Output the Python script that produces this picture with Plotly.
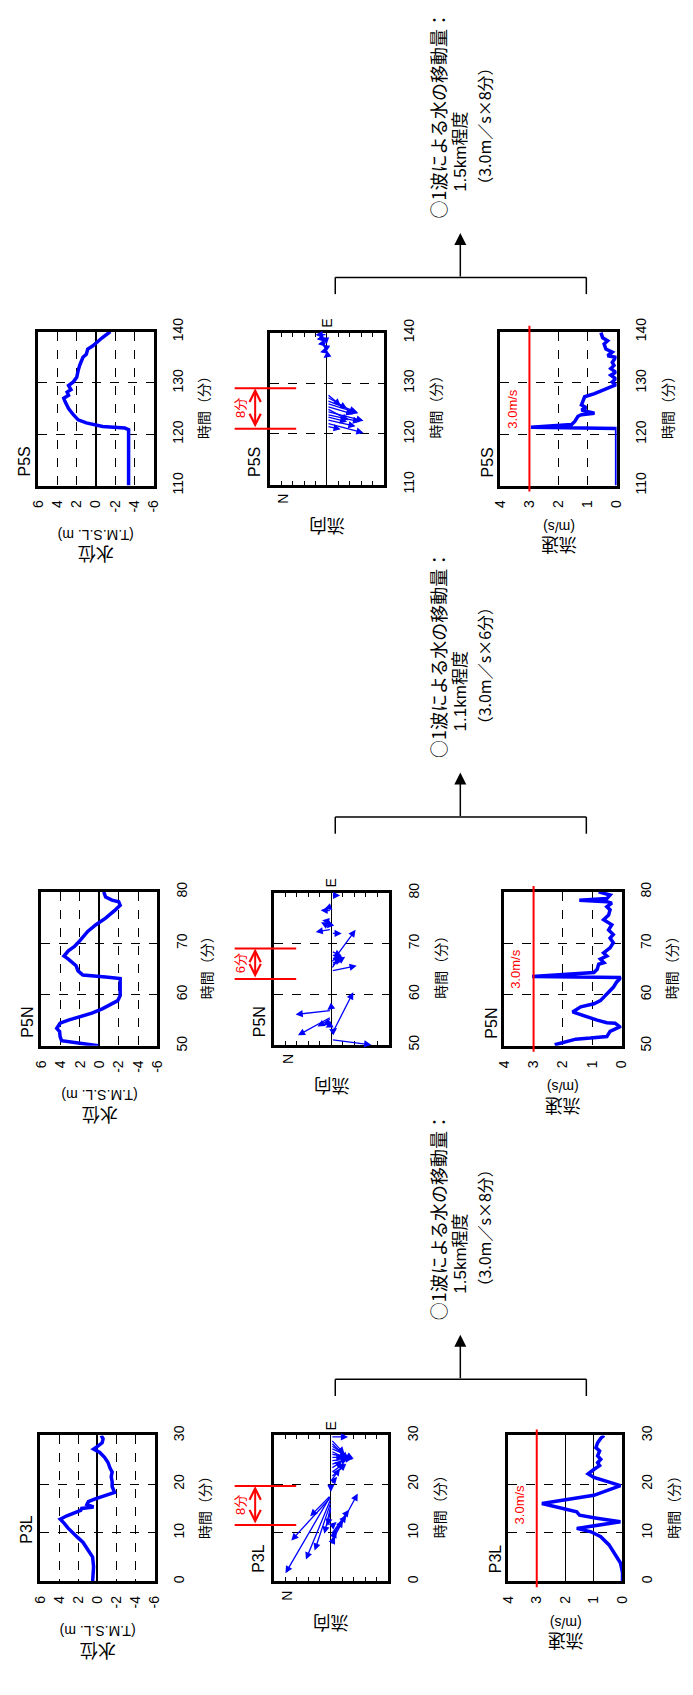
import plotly.graph_objects as go

W, H = 693, 1695


def X(px):
    return px / W


def Y(py):
    return 1 - py / H


# ---------------- data ----------------
stations = ["P5S", "P5N", "P3L"]
time_start = [110, 50, 0]
wl_ticks = [6, 4, 2, 0, -2, -4, -6]
wl_ticktext = ["6", "4", "2", "0", "-2", "-4", "-6"]
sp_ticks = [4, 3, 2, 1, 0]
threshold_speed = 3.0
move_minutes = [8, 6, 8]
move_dist = ["1.5km", "1.1km", "1.5km"]
move_window = [(121.0, 129.0), (63.0, 69.0), (11.6, 19.6)]

# water level (T.M.S.L. m)
p5s_wl_t = [110, 120.9, 121.2, 121.5, 122.2, 122.8, 123.8, 125.0, 126.3, 127.0, 127.6, 128.2,
            128.7, 129.5, 130.2, 131.1, 132.4, 133.4, 135.0, 135.6, 136.6, 137.2, 138.8, 140]
p5s_wl_v = [-3.4, -3.4, -3.0, -0.7, 1.0, 1.85, 2.35, 2.85, 3.2, 3.35, 2.85, 3.0,
            2.6, 2.85, 2.35, 2.0, 1.85, 1.7, 1.35, 1.0, 0.85, 0.35, -0.65, -1.5]

p5n_wl_t = [50, 50.5, 51.0, 51.8, 52.8, 53.4, 54.4, 55.0, 55.6, 56.4, 57.2, 58.1, 58.8, 59.8,
            61.4, 62.7, 63.1, 63.4, 63.8, 64.6, 65.6, 66.9, 67.5, 68.5, 69.4, 70.4, 71.3, 72.3,
            73.6, 74.9, 76.5, 77.4, 78.1, 78.4, 79.0, 80]
p5n_wl_v = [0.1, 1.9, 3.9, 4.05, 4.1, 4.4, 4.05, 3.2, 2.05, 0.7, -0.3, -1.3, -1.9, -2.15,
            -2.15, -2.1, -2.15, -0.65, 1.7, 2.2, 2.4, 3.2, 3.65, 3.2, 2.55, 2.05, 1.7, 1.2,
            0.35, -0.65, -1.65, -2.15, -2.0, -1.3, -0.65, -0.45]

p3l_wl_t = [0, 3, 5, 6, 7, 8, 9, 10, 11, 12, 12.8, 13.5, 14.2, 14.6, 15.0, 15.3, 15.8, 16.4,
            16.9, 17.4, 18.0, 18.3, 18.8, 19.5, 20.5, 21.5, 22.5, 23.2, 24.5, 25.5, 26.5, 27.2,
            27.8, 28.5, 29.3, 30]
p3l_wl_v = [0.5, 0.4, 0.5, 0.8, 1.1, 1.5, 2.05, 2.6, 3.1, 3.5, 3.9, 3.2, 2.3, 1.75, 1.65, 0.4,
            1.1, 0.95, 0.3, -0.4, -1.25, -1.8, -1.7, -1.55, -1.55, -1.45, -1.55, -1.35, -1.1,
            -0.75, -0.25, 0.4, -0.05, -0.5, -0.6, -0.4]

# current speed (m/s)
p5s_sp_t = [110, 121.1, 121.35, 121.9, 122.5, 123.5, 123.8, 124.1, 124.7, 125.2, 125.7, 126.7,
            127.3, 127.9, 128.6, 129.2, 129.6, 130.2, 130.8, 131.5, 132.1, 132.8, 133.4, 134.0,
            135.0, 135.3, 136.0, 136.6, 137.6, 138.2, 138.8, 139.8]
p5s_sp_v = [0.0, 0.0, 2.95, 1.55, 1.44, 1.33, 1.21, 0.76, 1.21, 1.05, 1.21, 1.16,
            1.1, 0.76, 0.48, 0.2, 0.03, 0.15, 0.03, 0.2, 0.03, 0.2, 0.09, 0.15,
            0.03, 0.31, 0.15, 0.37, 0.43, 0.31, 0.48, 0.54]

p5n_sp_t = [50.2, 50.8, 51.3, 51.5, 51.8, 52.8, 53.7, 54.4, 54.5, 55.0, 56.0, 56.6, 57.6, 58.2,
            58.8, 59.5, 60.1, 61.4, 62.4, 63.0, 63.3, 63.5, 64.3, 64.9, 65.9, 66.2, 66.9, 67.5,
            68.1, 69.1, 70.1, 71.0, 71.7, 72.6, 73.6, 74.6, 75.5, 76.5, 77.1, 77.8, 78.1, 78.4,
            78.7, 79.4, 80.0]
p5n_sp_v = [2.28, 1.94, 1.56, 1.06, 0.5, 0.39, 0.06, 0.22, 0.5, 0.83, 1.39, 1.67, 1.39, 0.94,
            0.72, 0.61, 0.5, 0.28, 0.17, 0.06, 0.02, 3.05, 0.94, 0.83, 0.78, 0.6, 0.72, 0.5,
            0.61, 0.39, 0.28, 0.39, 0.28, 0.44, 0.33, 0.61, 0.44, 0.39, 0.5, 0.33, 0.5, 1.44,
            0.5, 0.39, 0.78]

p3l_sp_t = [0, 1.8, 3.8, 5.5, 7.5, 9.2, 10.2, 10.9, 12.25, 13.0, 13.6, 14.3, 16.0, 17.7, 19.7,
            21.4, 22.1, 23.1, 23.8, 24.4, 25.1, 25.8, 26.8, 27.5, 28.5, 29.5, 30]
p3l_sp_v = [0.0, 0.0, 0.07, 0.24, 0.47, 0.76, 1.1, 1.6, 0.07, 0.9, 1.5, 1.6, 2.82, 1.0, 0.07,
            1.0, 1.2, 0.98, 0.8, 0.87, 0.76, 0.87, 0.8, 0.93, 0.87, 0.75, 0.64]

# current direction vectors: start time, change along time axis (E), component toward N
p5s_dr_t0 = [127.9, 127.3, 126.6, 126.0, 125.4, 125.0, 124.4, 123.8, 123.4, 122.8, 122.1, 121.5,
             128.6, 129.8, 131.5, 133.0, 134.5, 135.5, 136.5, 137.0, 138.0, 138.5, 139.0, 139.6]
p5s_dr_de = [-2.3, -2.3, -2.3, -1.9, -1.5, -2.3, -1.8, -1.4, -1.0, -1.3, -1.9, -0.6,
             -0.6, -0.4, -0.3, -0.6, 0.3, -0.5, -0.4, 0.6, -0.3, 0.4, -0.3, 0.0]
p5s_dr_dn = [-1.2, -1.76, -2.6, -2.75, -2.3, -1.9, -3.2, -2.9, -1.76, -2.5, -3.2, -1.2,
             0.15, -0.1, -0.15, -0.1, 0.1, 0.3, 0.6, 0.4, 0.8, 0.5, 0.9, 1.0]

p5n_dr_t0 = [51.0, 51.9, 52.5, 53.0, 56.8, 55.5, 55.2, 54.8, 54.0, 57.5, 58.5,
             59.5, 60.5, 61.5, 62.5, 63.5, 64.6, 65.0, 65.6, 66.0, 66.2, 67.0, 67.8, 68.5,
             69.5, 70.5, 72.0, 72.8, 73.2, 74.3, 74.0, 76.5, 77.3, 79.5]
p5n_dr_de = [-1.0, 8.5, 0.8, 0.5, -0.8, -3.6, -1.6, -1.0, -0.6, -0.6, 0.4,
             -0.4, -0.4, 0.4, 0.4, 0.3, 1.0, 2.6, 1.8, 1.0, 6.5, 0.4, -0.6, -1.0,
             0.2, -0.5, 0.0, -0.5, 1.0, 0.3, -1.0, 0.1, -0.5, 0.0]
p5n_dr_dn = [-3.46, -1.9, -0.5, 0.2, 3.1, 2.9, 1.2, 0.7, 0.5, 0.35, 0.15,
             0.05, 0.0, 0.1, 0.0, 0.25, -2.2, -0.8, -1.2, -0.9, -2.1, -0.9, -1.0, -0.9,
             0.25, 0.2, -0.9, 1.36, 0.9, 0.8, 0.4, 0.93, 0.6, -0.76]

p3l_dr_t0 = [17.7, 17.3, 17.0, 17.7, 16.3, 15.6, 15.3, 19.2,
             7.85, 9.55, 9.2, 8.87, 8.2, 11.2, 7.5,
             6.5, 4.8, 3.5, 2.4, 1.6,
             29.7, 29.2, 28.6, 28.0, 27.4, 26.8, 26.2, 25.5, 24.8, 24.0, 23.2, 22.3, 21.4,
             20.6, 20.0]
p3l_dr_de = [-16.0, -8.9, -12.5, -4.3, -9.95, -5.8, -3.9, -0.8,
             10.2, 5.2, 4.4, 3.7, 2.2, 1.0, 1.7,
             0.6, 0.6, 0.6, 0.6, 0.6,
             0.0, -3.0, -3.5, -3.0, -2.2, -1.5, -0.8, 0.0, 0.5, 1.2, 1.5, 2.0, 2.8,
             2.6, 1.5]
p3l_dr_dn = [3.97, 3.46, 2.18, 1.81, 1.42, 0.57, 0.28, 0.0,
             -2.35, -1.59, -1.36, -1.08, -0.51, -0.5, -0.37,
             0.05, 0.05, 0.0, 0.0, 0.0,
             -1.5, -1.2, -1.5, -1.9, -2.0, -1.3, -1.65, -1.1, -1.9, -1.5, -1.0, -1.2, -1.35,
             -0.8, -0.55]

wl_data = [(p5s_wl_t, p5s_wl_v), (p5n_wl_t, p5n_wl_v), (p3l_wl_t, p3l_wl_v)]
sp_data = [(p5s_sp_t, p5s_sp_v), (p5n_sp_t, p5n_sp_v), (p3l_sp_t, p3l_sp_v)]
dr_data = [(p5s_dr_t0, p5s_dr_de, p5s_dr_dn), (p5n_dr_t0, p5n_dr_de, p5n_dr_dn),
           (p3l_dr_t0, p3l_dr_de, p3l_dr_dn)]

# ---------------- layout geometry (pixels: left, right, top, bottom) ----------------
geo = [
    dict(wl=(31, 149, 322, 478), dr=(268, 385, 323, 477), sp=(504, 623, 322, 478), lab_wl=454,
         bracket=267),
    dict(wl=(34, 153, 890, 1046), dr=(272, 390, 891, 1045), sp=(508, 628, 890, 1046), lab_wl=1022,
         bracket=814),
    dict(wl=(33, 150, 1441, 1589), dr=(272, 389, 1441, 1589), sp=(512, 629, 1441, 1589),
         lab_wl=1536, bracket=1384),
]

FONT = "Liberation Sans, Arial, Noto Sans CJK JP, sans-serif"
CJK = "Noto Sans CJK JP, sans-serif"
BLUE = "#0000FF"
RED = "#FF0000"

fig = go.Figure()
layout = {}
annotations = []
shapes = []


def names(n):
    if n == 1:
        return "xaxis", "yaxis", "x", "y"
    return f"xaxis{n}", f"yaxis{n}", f"x{n}", f"y{n}"


frame = dict(showline=True, linecolor="black", linewidth=3)


def txt(s, px, py, size, angle=0, color="black", xanchor="center", yanchor="middle",
        family=FONT):
    annotations.append(dict(text=s, x=X(px), y=Y(py), xref="paper", yref="paper",
                            showarrow=False, textangle=angle, xanchor=xanchor,
                            yanchor=yanchor, font=dict(size=size, color=color, family=family)))


def time_axis(t0, box, xr, grid_dash="dash"):
    l, r, t, b = box
    return dict(domain=[Y(b), Y(t)], range=[t0, t0 + 30],
                tickvals=[t0, t0 + 10, t0 + 20, t0 + 30], tickangle=-90, side="right",
                anchor=xr, showgrid=True, griddash=grid_dash, gridcolor="black", gridwidth=1,
                zeroline=False, ticks="", ticklabelstandoff=10, mirror=True,
                tickfont=dict(size=14, family=FONT, color="black"), **frame)


TIME_TITLE = "時間（分）"

n = 0
for g, st in enumerate(stations):
    t0 = time_start[g]
    G = geo[g]

    # ---- water level panel ----
    n += 1
    xa, ya, xr, yr = names(n)
    l, r, t, b = G["wl"]
    layout[xa] = dict(domain=[X(l), X(r)], range=[6, -6], tickvals=wl_ticks,
                      ticktext=wl_ticktext, tickangle=-90, anchor=yr, showgrid=True,
                      griddash="dash", gridcolor="black", gridwidth=1, zeroline=True,
                      zerolinecolor="black", zerolinewidth=1.5, ticks="",
                      ticklabelstandoff=6, mirror=True,
                      tickfont=dict(size=14, family=FONT, color="black"), **frame)
    layout[ya] = time_axis(t0, G["wl"], xr)
    tt, vv = wl_data[g]
    fig.add_trace(go.Scatter(x=vv, y=tt, mode="lines", line=dict(color=BLUE, width=3.5),
                             xaxis=xr, yaxis=yr, hoverinfo="skip"))
    cx = (l + r) / 2
    txt("(T.M.S.L. m)", cx, b + 50, 14, angle=180)
    txt("水位", cx, b + 71, 18, angle=180, family=CJK)
    txt(st, l - 14, G["lab_wl"], 16, angle=-90)
    txt(TIME_TITLE, r + 50, (t + b) / 2 - 5, 14, angle=-90, family=CJK)

    # ---- direction panel ----
    n += 1
    xa, ya, xr, yr = names(n)
    l, r, t, b = G["dr"]
    layout[xa] = dict(domain=[X(l), X(r)], range=[5, -5], tickvals=list(range(-5, 6)),
                      showticklabels=False, ticks="inside", ticklen=4, tickcolor="black",
                      tickwidth=1, anchor=yr, showgrid=False, zeroline=True,
                      zerolinecolor="black", zerolinewidth=1.2, mirror="ticks", **frame)
    layout[ya] = time_axis(t0, G["dr"], xr)
    st0, sde, sdn = dr_data[g]
    fig.add_trace(go.Scatter(x=[0] * len(st0), y=st0, mode="markers",
                             marker=dict(size=1, opacity=0), xaxis=xr, yaxis=yr,
                             hoverinfo="skip"))
    for a0, de, dn in zip(st0, sde, sdn):
        annotations.append(dict(x=dn, y=a0 + de, xref=xr, yref=yr, ax=0, ay=a0,
                                axref=xr, ayref=yr, text="", showarrow=True, arrowhead=2,
                                arrowsize=1.1, arrowwidth=1.3, arrowcolor=BLUE, standoff=0))
    cx = (l + r) / 2
    txt("流向", cx, b + 43, 18, angle=180, family=CJK)
    txt("N", l + 14, b + 14, 14, angle=-90)
    txt("E", cx, t - 10, 14, angle=-90)
    txt(st, l - 15, b - 23, 16, angle=-90)
    txt(TIME_TITLE, r + 52, (t + b) / 2 - 5, 14, angle=-90, family=CJK)
    # red moving-window marker
    w0, w1 = move_window[g]
    for tw in (w0, w1):
        shapes.append(dict(type="line", xref="paper", yref=yr, x0=X(232), x1=X(295),
                           y0=tw, y1=tw, line=dict(color=RED, width=2)))
    annotations.append(dict(x=X(253), y=w1, xref="paper", yref=yr, ax=0, ay=w0,
                            axref="pixel", ayref=yr, text="", showarrow=True, arrowhead=5,
                            arrowside="end+start", arrowsize=1.1, arrowwidth=2,
                            arrowcolor=RED, standoff=0, startstandoff=0))
    annotations.append(dict(text=f"{move_minutes[g]}分", x=X(238), y=(w0 + w1) / 2,
                            xref="paper", yref=yr, showarrow=False, textangle=-90,
                            font=dict(size=13, color=RED, family=FONT)))

    # ---- speed panel ----
    n += 1
    xa, ya, xr, yr = names(n)
    l, r, t, b = G["sp"]
    layout[xa] = dict(domain=[X(l), X(r)], range=[4, 0], tickvals=sp_ticks, tickangle=-90,
                      anchor=yr, showgrid=True, griddash="solid" if st == "P3L" else "dash",
                      gridcolor="black", gridwidth=1, zeroline=False, ticks="",
                      ticklabelstandoff=6, mirror=True,
                      tickfont=dict(size=14, family=FONT, color="black"), **frame)
    layout[ya] = time_axis(t0, G["sp"], xr)
    tt, vv = sp_data[g]
    fig.add_trace(go.Scatter(x=vv, y=tt, mode="lines", line=dict(color=BLUE, width=3.5),
                             xaxis=xr, yaxis=yr, hoverinfo="skip"))
    shapes.append(dict(type="line", xref=xr, yref="paper", x0=threshold_speed,
                       x1=threshold_speed, y0=Y(b + 6), y1=Y(t - 6),
                       line=dict(color=RED, width=2)))
    cx = (l + r) / 2
    txt("(m/s)", cx, b + 42, 14, angle=180)
    txt("流速", cx, b + 62, 18, angle=180, family=CJK)
    txt(st, l - 13, b - 23, 16, angle=-90)
    txt(TIME_TITLE, r + 51, (t + b) / 2 - 5, 14, angle=-90, family=CJK)
    txt("3.0m/s", l + 12, b - 78, 13, angle=-90, color=RED)

    # ---- bracket / arrow / movement text ----
    yb = G["bracket"]
    shapes.append(dict(type="line", xref="paper", yref="paper", x0=X(335), x1=X(592),
                       y0=Y(yb), y1=Y(yb), line=dict(color="black", width=1.5)))
    for xl in (335, 592):
        shapes.append(dict(type="line", xref="paper", yref="paper", x0=X(xl), x1=X(xl),
                           y0=Y(yb), y1=Y(yb + 17), line=dict(color="black", width=1.5)))
    tip = yb - 45
    annotations.append(dict(x=X(463), y=Y(tip), xref="paper", yref="paper", ax=0, ay=45,
                            text="", showarrow=True, arrowhead=2, arrowsize=1.6,
                            arrowwidth=1.5, arrowcolor="black", standoff=0))
    txt("○1波による水の移動量：", 440, tip - 13, 18, angle=-90, yanchor="bottom", family=CJK)
    txt(f"{move_dist[g]}程度", 463, tip - 40, 17, angle=-90, yanchor="bottom")
    txt(f"（3.0m／s×{move_minutes[g]}分）", 487, tip - 39, 16, angle=-90, yanchor="bottom",
        family=CJK)

fig.update_layout(**layout)
fig.update_layout(width=W, height=H, margin=dict(l=0, r=0, t=0, b=0, pad=0),
                  paper_bgcolor="white", plot_bgcolor="white", showlegend=False,
                  font=dict(family=FONT, color="black"), annotations=annotations,
                  shapes=shapes)

fig.write_html("out.html")
